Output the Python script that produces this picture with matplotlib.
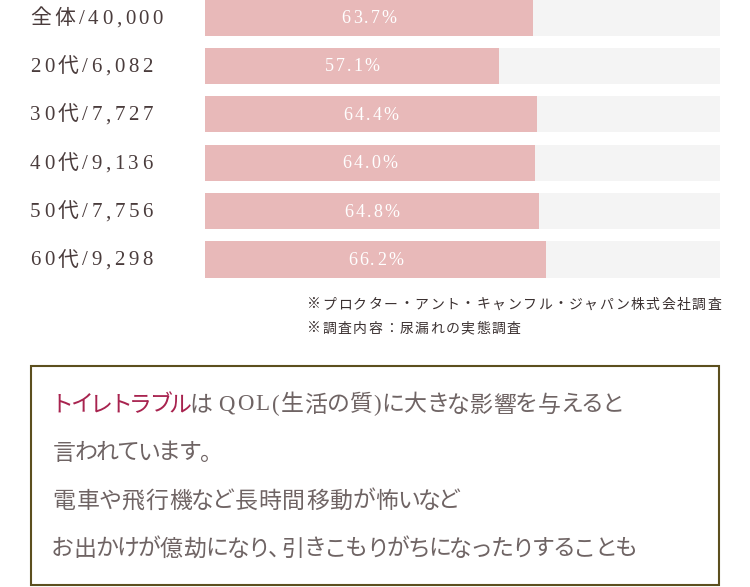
import matplotlib
matplotlib.use('Agg')
import matplotlib.pyplot as plt
from matplotlib.patches import Rectangle

plt.rcParams['font.family'] = ['Liberation Serif', 'Noto Sans CJK JP', 'DejaVu Sans']

# data
groups = ['全体/40,000', '20代/6,082', '30代/7,727', '40代/9,136', '50代/7,756', '60代/9,298']
rates = [63.7, 57.1, 64.4, 64.0, 64.8, 66.2]
notes = ['※プロクター・アント・キャンフル・ジャパン株式会社調査',
         '※調査内容：尿漏れの実態調査']
box_head = 'トイレトラブル'
box_lines = ['は QOL(生活の質)に大きな影響を与えると',
             '言われています。',
             '電車や飛行機など長時間移動が怖いなど',
             'お出かけが億劫になり、引きこもりがちになったりすることも']

W, H = 750, 587
fig = plt.figure(figsize=(W / 100, H / 100), dpi=100)
fig.patch.set_facecolor('white')
renderer = fig.canvas.get_renderer()

# bar area
ax = fig.add_axes([205 / W, 1 - 280 / H, 515 / W, 280 / H])
pos = list(range(len(groups)))
ax.barh(pos, [100] * len(pos), height=0.744, color='#f4f4f4')
ax.barh(pos, rates, height=0.744, color='#e8b9b9')
ax.set_xlim(0, 100)
ax.set_ylim(5.4236, -0.3616)
ax.axis('off')

# overlay in pixel coords for text and box
ov = fig.add_axes([0, 0, 1, 1])
ov.set_xlim(0, W)
ov.set_ylim(H, 0)
ov.axis('off')


def spaced(x, y, s, spacing, ha='left', **kw):
    """draw text char by char with extra letter spacing"""
    widths = []
    for ch in s:
        t = ov.text(0, 0, ch, **kw)
        widths.append(t.get_window_extent(renderer).width)
        t.remove()
    total = sum(widths) + spacing * (len(s) - 1)
    if ha == 'center':
        x -= total / 2
    elif ha == 'right':
        x -= total
    for ch, w in zip(s, widths):
        ov.text(x, y, ch, ha='left', va='center', **kw)
        x += w + spacing
    return x


def proportional(x, y, s, size, **kw):
    """rough proportional kana spacing, kanji keep a full box"""
    px = size * 100 / 72
    for ch in s:
        fam = 'Noto Sans CJK JP'
        if '\u4e00' <= ch <= '\u9fff':
            adv = px + 1
        elif ch in '、。':
            adv = px * 0.52
        elif '\u30a0' <= ch <= '\u30ff':
            adv = px * 0.86
        elif '\u3040' <= ch <= '\u309f':
            adv = px * 0.905
        elif ch == ' ':
            x += px * 0.3
            continue
        else:
            fam = 'Liberation Serif'
            t = ov.text(0, 0, ch, fontsize=size, family=fam)
            adv = t.get_window_extent(renderer).width + 2
            t.remove()
        if ch in '、。':
            # punctuation ink sits at the left of its box
            ov.text(x - px * 0.05, y, ch, ha='left', va='center', fontsize=size, family=fam, **kw)
        else:
            ov.text(x + adv / 2, y, ch, ha='center', va='center', fontsize=size, family=fam, **kw)
        x += adv
    return x


def to_px(xd, yd):
    dx, dy = ax.transData.transform((xd, yd))
    return dx, H - dy


for i, (g, r) in enumerate(zip(groups, rates)):
    _, yc = to_px(0, i)
    spaced(30, yc + 1.5, g, 3.5, fontsize=15, color='#4a3c3c')
    xc, _ = to_px(r / 2, i)
    spaced(xc, yc + 1, f'{r}%', 2.2, ha='center', fontsize=13, color='white')

spaced(307, 305, notes[0], 1.5, fontsize=10, color='#3a3030')
spaced(307, 329, notes[1], 1.5, fontsize=10, color='#3a3030')

ov.add_patch(Rectangle((31, 366), 688, 219, fill=False, edgecolor='#5c4f1e', linewidth=1.5))

fs = 16.5
x = proportional(52, 405, box_head, fs, color='#a8234f')
proportional(x, 405, box_lines[0], fs, color='#6f6464')
for k, line in enumerate(box_lines[1:]):
    proportional(52, 453 + 48 * k, line, fs, color='#6f6464')

fig.savefig('out.png', dpi=100)
